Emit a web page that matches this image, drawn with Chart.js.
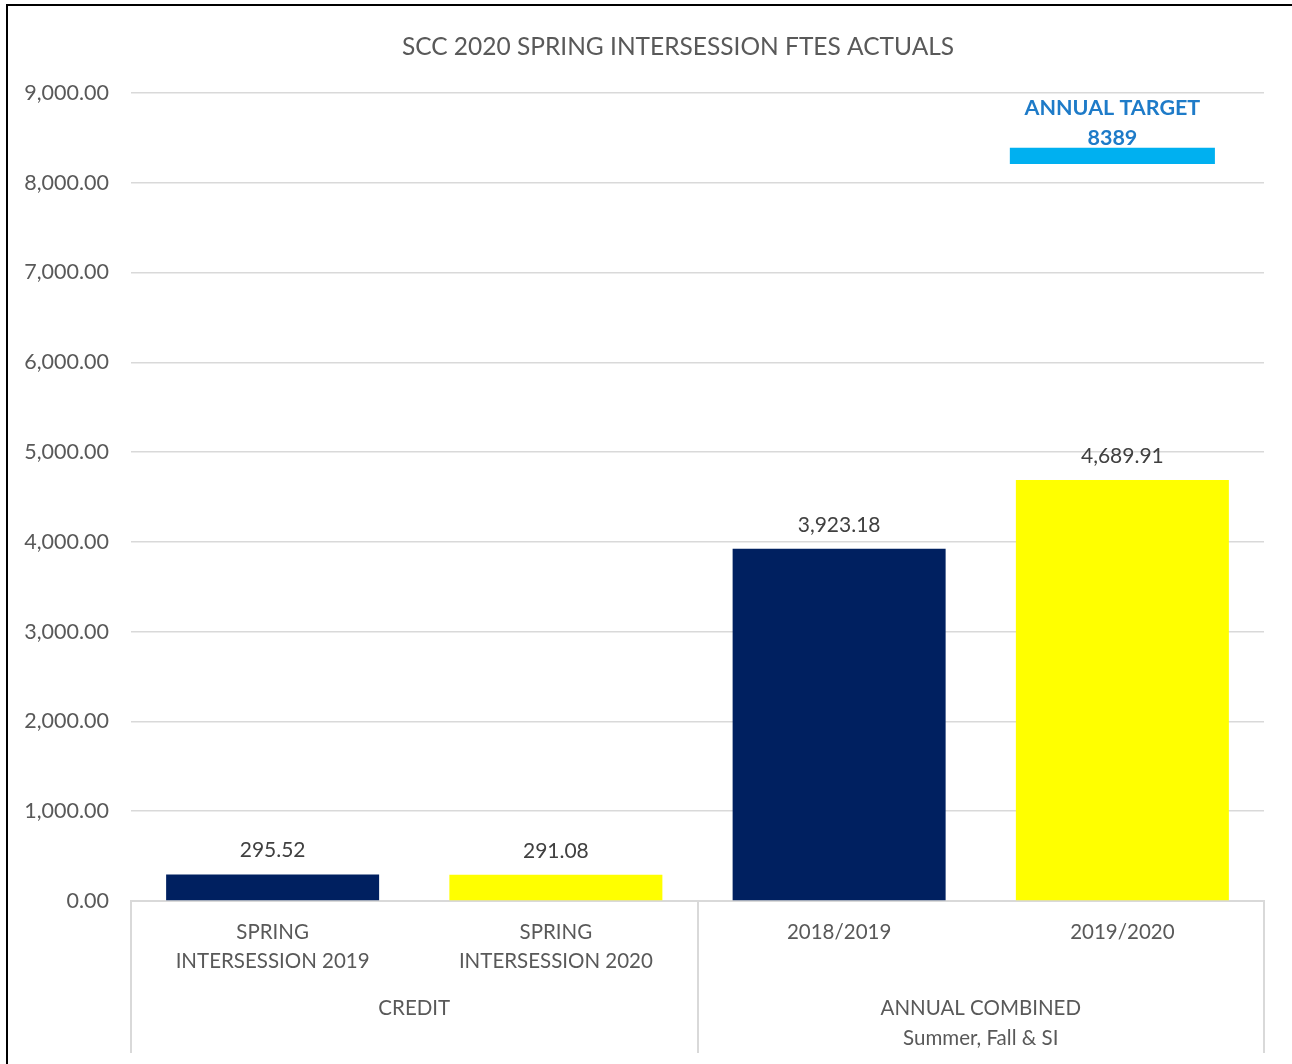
<!DOCTYPE html>
<html>
<head>
<meta charset="utf-8">
<script src="https://cdn.jsdelivr.net/npm/chart.js@4/dist/chart.umd.min.js"></script>
<style>
  html, body { margin: 0; padding: 0; background: #ffffff; }
  #wrap { width: 1292px; height: 1064px; position: relative; }
  canvas { display: block; }
</style>
</head>
<body>
<div id="wrap"><canvas id="c" width="1292" height="1064"></canvas></div>
<script>
const chartTitle = "SCC 2020 SPRING INTERSESSION FTES ACTUALS";
const categories = [
  ["SPRING", "INTERSESSION 2019"],
  ["SPRING", "INTERSESSION 2020"],
  ["2018/2019"],
  ["2019/2020"]
];
const groups = [
  { lines: ["CREDIT"], from: 0, to: 1 },
  { lines: ["ANNUAL COMBINED", "Summer, Fall & SI"], from: 2, to: 3 }
];
const ftesValues = [295.52, 291.08, 3923.18, 4689.91];
const barColors = ["#002060", "#FFFF00", "#002060", "#FFFF00"];
const targetCategory = 3;
const targetValue = 8389;
const targetBase = 8210;
const targetLabel = ["ANNUAL TARGET", "8389"];
const yTicks = [0, 1000, 2000, 3000, 4000, 5000, 6000, 7000, 8000, 9000];

const FONT = "Lato, 'Open Sans', sans-serif";
const TEXT = "#595959";
const GRID = "#d9d9d9";

const targetData = categories.map((_, i) => i === targetCategory ? [targetBase, targetValue] : null);

const fmt = v => v.toLocaleString("en-US", { minimumFractionDigits: 2, maximumFractionDigits: 2 });

const decorPlugin = {
  id: "decor",
  afterDatasetsUpdate(chart) {
    // target marker sits slightly left of the bar centre, as in the original
    const el = chart.getDatasetMeta(1).data[targetCategory];
    if (el) el.x -= 10;
  },
  beforeDraw(chart) {
    const ctx = chart.ctx;
    ctx.save();
    ctx.strokeStyle = "#000000";
    ctx.lineWidth = 2;
    ctx.beginPath();
    ctx.moveTo(7, 1064);
    ctx.lineTo(7, 5);
    ctx.lineTo(1292, 5);
    ctx.stroke();
    // title
    ctx.font = "24.5px " + FONT;
    ctx.fillStyle = TEXT;
    ctx.textAlign = "center";
    ctx.textBaseline = "middle";
    ctx.fillText(chartTitle, 678, 47);
    ctx.restore();
  },
  afterDraw(chart) {
    const ctx = chart.ctx;
    const x = chart.scales.x;
    const y = chart.scales.y;
    const area = chart.chartArea;
    ctx.save();
    // value labels
    ctx.font = "21px " + FONT;
    ctx.fillStyle = "#404040";
    ctx.textAlign = "center";
    ctx.textBaseline = "middle";
    const meta0 = chart.getDatasetMeta(0);
    meta0.data.forEach((bar, i) => {
      ctx.fillText(fmt(ftesValues[i]), bar.x, bar.y - 24);
    });
    // target label
    const meta1 = chart.getDatasetMeta(1);
    const tb = meta1.data[targetCategory];
    ctx.font = "bold 21.5px " + FONT;
    ctx.fillStyle = "#1E7BC8";
    ctx.fillText(targetLabel[0], tb.x, y.getPixelForValue(targetValue) - 40);
    ctx.fillText(targetLabel[1], tb.x, y.getPixelForValue(targetValue) - 10);
    // separators
    const half = (x.getPixelForValue(1) - x.getPixelForValue(0)) / 2;
    const bounds = [area.left, (x.getPixelForValue(1) + x.getPixelForValue(2)) / 2, area.right];
    ctx.strokeStyle = GRID;
    ctx.lineWidth = 2;
    bounds.forEach(bx => {
      ctx.beginPath();
      ctx.moveTo(Math.round(bx), area.bottom);
      ctx.lineTo(Math.round(bx), area.bottom + 152);
      ctx.stroke();
    });
    // group labels
    ctx.font = "20.5px " + FONT;
    ctx.fillStyle = TEXT;
    groups.forEach(g => {
      const cx = (x.getPixelForValue(g.from) - half + x.getPixelForValue(g.to) + half) / 2;
      g.lines.forEach((ln, k) => {
        ctx.fillText(ln, cx, area.bottom + 107 + k * 30);
      });
    });
    ctx.restore();
  }
};

new Chart(document.getElementById("c"), {
  type: "bar",
  data: {
    labels: categories,
    datasets: [
      {
        label: "FTES",
        data: ftesValues,
        backgroundColor: barColors,
        barPercentage: 0.752,
        categoryPercentage: 1,
        grouped: false,
        order: 2
      },
      {
        label: "Annual Target",
        data: targetData,
        backgroundColor: "#00B0F0",
        barPercentage: 0.724,
        categoryPercentage: 1,
        grouped: false,
        order: 1
      }
    ]
  },
  options: {
    responsive: false,
    animation: false,
    layout: { padding: { left: 0, right: 28, top: 93, bottom: 0 } },
    plugins: {
      legend: { display: false },
      tooltip: { enabled: false },
      title: { display: false }
    },
    scales: {
      x: {
        grid: { display: false, drawTicks: false },
        border: { display: true, color: GRID, width: 2 },
        ticks: {
          color: TEXT,
          font: { family: FONT, size: 20.5, lineHeight: 1.42 },
          padding: 17,
          maxRotation: 0,
          autoSkip: false
        },
        afterFit(scale) { scale.height = 163; }
      },
      y: {
        min: 0,
        max: 9000,
        afterBuildTicks(scale) { scale.ticks = yTicks.map(v => ({ value: v })); },
        grid: { color: GRID, lineWidth: 1.5, drawTicks: false },
        border: { display: false },
        ticks: {
          color: TEXT,
          font: { family: FONT, size: 21.5 },
          padding: 22,
          callback: v => fmt(v)
        },
        afterFit(scale) { scale.width = 131; }
      }
    }
  },
  plugins: [decorPlugin]
});
</script>
</body>
</html>
